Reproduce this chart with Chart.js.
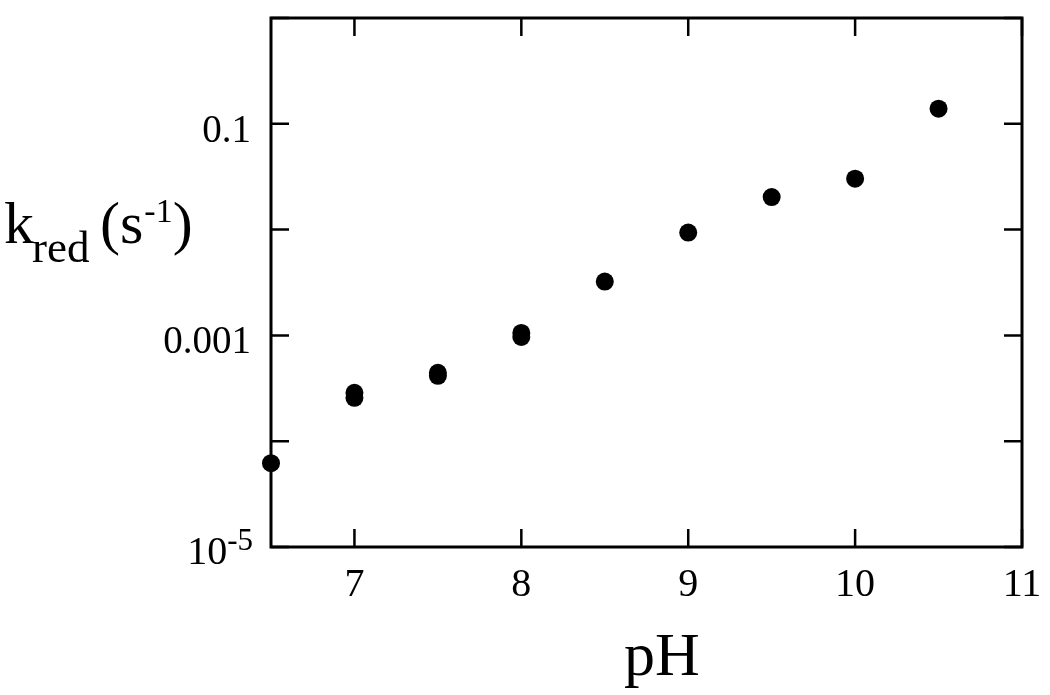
<!DOCTYPE html>
<html>
<head>
<meta charset="utf-8">
<script src="https://cdn.jsdelivr.net/npm/chart.js@4"></script>
<style>
  body { margin: 0; background: #fff; }
  canvas { display: block; }
</style>
</head>
<body>
<canvas id="phChart" width="1050" height="695"></canvas>
<script>
// data
const phValues = [6.5, 7, 7, 7.5, 7.5, 8, 8, 8.5, 9, 9.5, 10, 10.5];
const kRed = [6.2e-5, 2.87e-4, 2.57e-4, 4.43e-4, 4.15e-4, 1.056e-3, 9.68e-4, 3.23e-3, 9.37e-3, 0.0203, 0.0303, 0.139];
const xTicks = [7, 8, 9, 10, 11];
const yTicks = [1e-5, 1e-4, 1e-3, 1e-2, 0.1, 1];
const yLabels = { 0.1: '0.1', 0.001: '0.001' };

const serif = '"Liberation Serif", "Times New Roman", serif';

// frame, inward ticks, y labels and axis titles
const decorations = {
    id: 'decorations',
    afterDraw(chart) {
        const c = chart.ctx;
        const a = chart.chartArea;
        const x = chart.scales.x;
        const y = chart.scales.y;
        c.save();
        c.strokeStyle = '#000';
        c.lineWidth = 3;
        c.strokeRect(a.left, a.top, a.right - a.left, a.bottom - a.top);

        c.lineWidth = 2.5;
        c.beginPath();
        xTicks.forEach(v => {
            const px = x.getPixelForValue(v);
            c.moveTo(px, a.bottom); c.lineTo(px, a.bottom - 18);
            c.moveTo(px, a.top); c.lineTo(px, a.top + 18);
        });
        yTicks.forEach(v => {
            const py = y.getPixelForValue(v);
            c.moveTo(a.left, py); c.lineTo(a.left + 18, py);
            c.moveTo(a.right, py); c.lineTo(a.right - 18, py);
        });
        c.stroke();

        c.fillStyle = '#000';
        c.textAlign = 'right';
        c.textBaseline = 'alphabetic';
        c.font = '39px ' + serif;
        Object.keys(yLabels).forEach(k => {
            const py = y.getPixelForValue(Number(k));
            c.fillText(yLabels[k], 251, py + 18);
        });
        // 10^-5
        const pyMin = y.getPixelForValue(1e-5);
        c.font = '31px ' + serif;
        c.fillText('-5', 253, pyMin + 3);
        const supW = c.measureText('-5').width;
        c.font = '40px ' + serif;
        c.fillText('10', 253 - supW, pyMin + 17);

        // y title: k_red (s^-1)
        c.textAlign = 'left';
        c.font = '60px ' + serif;
        c.fillText('k', 4, 243);
        c.font = '45px ' + serif;
        c.fillText('red', 32, 262);
        c.font = '60px ' + serif;
        c.fillText('(s', 100, 243);
        const sEnd = 100 + c.measureText('(s').width;
        c.font = '34px ' + serif;
        c.fillText('-1', sEnd + 1, 222);
        const supEnd = sEnd + 1 + c.measureText('-1').width;
        c.font = '60px ' + serif;
        c.fillText(')', supEnd, 243);

        // x title
        c.textAlign = 'center';
        c.font = '62px ' + serif;
        c.fillText('pH', 662, 675);
        c.restore();
    }
};

const phChart = new Chart(document.getElementById('phChart'), {
    type: 'scatter',
    data: {
        datasets: [{
            data: phValues.map((v, i) => ({ x: v, y: kRed[i] })),
            backgroundColor: '#000',
            borderWidth: 0,
            pointRadius: 9,
            pointHoverRadius: 9,
            clip: false
        }]
    },
    options: {
        responsive: false,
        animation: false,
        layout: { padding: { left: 0, top: 18, right: 28, bottom: 0 } },
        plugins: { legend: { display: false }, tooltip: { enabled: false } },
        scales: {
            x: {
                type: 'linear',
                min: 6.5,
                max: 11,
                grid: { display: false, drawTicks: false },
                border: { display: false },
                afterBuildTicks: s => { s.ticks = xTicks.map(v => ({ value: v })); },
                afterFit: s => { s.height = 148; s.paddingLeft = 0; s.paddingRight = 0; },
                ticks: {
                    color: '#000',
                    padding: 14,
                    maxRotation: 0,
                    font: { family: serif, size: 40 }
                }
            },
            y: {
                type: 'logarithmic',
                min: 1e-5,
                max: 1,
                grid: { display: false, drawTicks: false },
                border: { display: false },
                afterBuildTicks: s => { s.ticks = yTicks.map(v => ({ value: v })); },
                afterFit: s => { s.width = 271; s.paddingTop = 0; s.paddingBottom = 0; },
                ticks: { display: false }
            }
        }
    },
    plugins: [decorations]
});
</script>
</body>
</html>
